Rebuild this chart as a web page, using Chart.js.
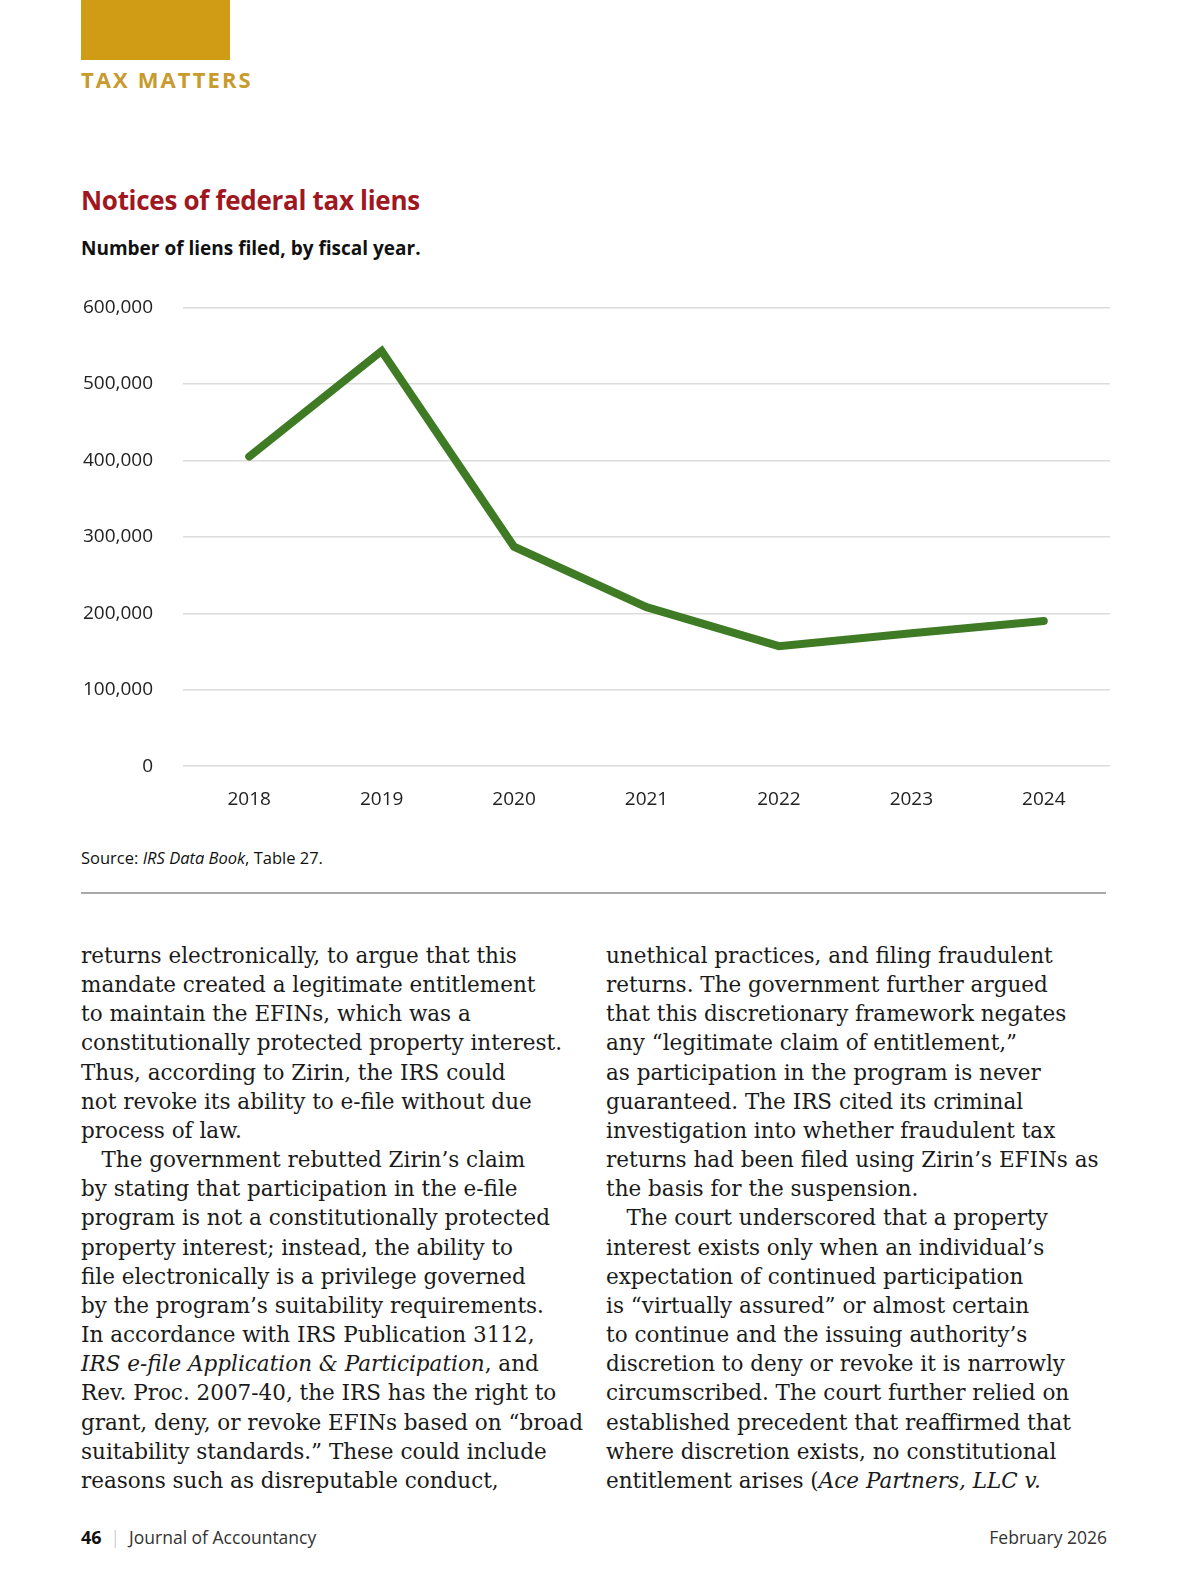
<!DOCTYPE html>
<html>
<head>
<meta charset="utf-8">
<script src="https://cdn.jsdelivr.net/npm/chart.js@4.4.1/dist/chart.umd.min.js"></script>
<style>
  html, body { overflow: hidden; }
  body { margin: 0; background: #fff; width: 1200px; height: 1575px; position: relative; font-family: "Open Sans", "Noto Sans", sans-serif; }
  .abs { position: absolute; }
  #bar { left: 81px; top: 0; width: 149px; height: 60px; background: #d09b15; }
  #kicker { left: 81px; top: 64px; font-size: 22px; font-weight: 700; letter-spacing: 2.1px; color: #c99a2c; }
  #title { left: 81px; top: 182px; font-size: 26px; font-weight: 700; color: #a0171f; letter-spacing: -0.3px; }
  #sub { left: 81px; top: 235px; font-size: 19px; font-weight: 700; color: #111; }
  #wrap { left: 81px; top: 266px; width: 1029px; height: 567px; }
  #source { left: 81px; top: 846px; font-size: 16.5px; color: #111; }
  #rule { left: 81px; top: 892px; width: 1025px; height: 2px; background: #a9a9a9; }
  .col { top: 941px; font-family: "DejaVu Serif", serif; font-size: 21.5px; line-height: 29.15px; color: #1a1a1a; white-space: pre; }
  #left { left: 81px; }
  #right { left: 606px; }
  #foot { left: 81px; top: 1525px; font-size: 17.5px; color: #333; }
  #foot b { color: #111; font-size: 18px; }
  #foot .sep { color: #bbb; margin: 0 9px; font-weight: 300; }
  #date { right: 93px; top: 1525px; font-size: 17.5px; color: #333; }
</style>
</head>
<body>
<div id="bar" class="abs"></div>
<div id="kicker" class="abs">TAX MATTERS</div>
<div id="title" class="abs">Notices of federal tax liens</div>
<div id="sub" class="abs">Number of liens filed, by fiscal year.</div>
<div id="wrap" class="abs"><canvas id="liens"></canvas></div>
<div id="source" class="abs">Source: <i>IRS Data Book</i>, Table 27.</div>
<div id="rule" class="abs"></div>
<div id="left" class="abs col">returns electronically, to argue that this
mandate created a legitimate entitlement
to maintain the EFINs, which was a
constitutionally protected property interest.
Thus, according to Zirin, the IRS could
not revoke its ability to e-file without due
process of law.
   The government rebutted Zirin’s claim
by stating that participation in the e-file
program is not a constitutionally protected
property interest; instead, the ability to
file electronically is a privilege governed
by the program’s suitability requirements.
In accordance with IRS Publication 3112,
<i>IRS e-file Application &amp; Participation</i>, and
Rev. Proc. 2007-40, the IRS has the right to
grant, deny, or revoke EFINs based on “broad
suitability standards.” These could include
reasons such as disreputable conduct,</div>
<div id="right" class="abs col">unethical practices, and filing fraudulent
returns. The government further argued
that this discretionary framework negates
any “legitimate claim of entitlement,”
as participation in the program is never
guaranteed. The IRS cited its criminal
investigation into whether fraudulent tax
returns had been filed using Zirin’s EFINs as
the basis for the suspension.
   The court underscored that a property
interest exists only when an individual’s
expectation of continued participation
is “virtually assured” or almost certain
to continue and the issuing authority’s
discretion to deny or revoke it is narrowly
circumscribed. The court further relied on
established precedent that reaffirmed that
where discretion exists, no constitutional
entitlement arises (<i>Ace Partners, LLC v.</i></div>
<div id="foot" class="abs"><b>46</b><span class="sep">|</span>Journal of Accountancy</div>
<div id="date" class="abs">February 2026</div>

<script>
const years = ["2018", "2019", "2020", "2021", "2022", "2023", "2024"];
const liens = [405000, 543000, 287000, 208000, 157000, 174000, 190000];
const yTicks = [0, 100000, 200000, 300000, 400000, 500000, 600000];

const data = {
  labels: years,
  datasets: [
    {
      label: "Liens filed",
      data: liens,
      borderColor: "#3f7b24",
      borderWidth: 8,
      borderCapStyle: "round",
      borderJoinStyle: "miter",
      pointRadius: 0,
      tension: 0,
      fill: false,
    },
  ],
};

const config = {
  type: "line",
  data: data,
  options: {
    responsive: true,
    maintainAspectRatio: false,
    animation: false,
    layout: { padding: { top: 10, right: 0 } },
    plugins: { legend: { display: false }, tooltip: { enabled: false } },
    scales: {
      x: {
        offset: true,
        grid: { display: false, drawTicks: false },
        border: { display: false },
        ticks: { color: "#222", font: { family: "Open Sans", size: 19 }, padding: 22, maxRotation: 0 },
      },
      y: {
        min: 0,
        max: 600000,
        afterBuildTicks: (axis) => { axis.ticks = yTicks.map((v) => ({ value: v })); },
        afterFit: (axis) => { axis.width = 102; },
        grid: { color: "#dcdcdc", lineWidth: 1.5, drawTicks: false },
        border: { display: false },
        ticks: {
          color: "#222",
          font: { family: "Open Sans", size: 19 },
          padding: 30,
          callback: (v) => v.toLocaleString("en-US"),
        },
      },
    },
  },
};
const liensChart = new Chart(document.getElementById("liens"), config);
</script>
</body>
</html>
